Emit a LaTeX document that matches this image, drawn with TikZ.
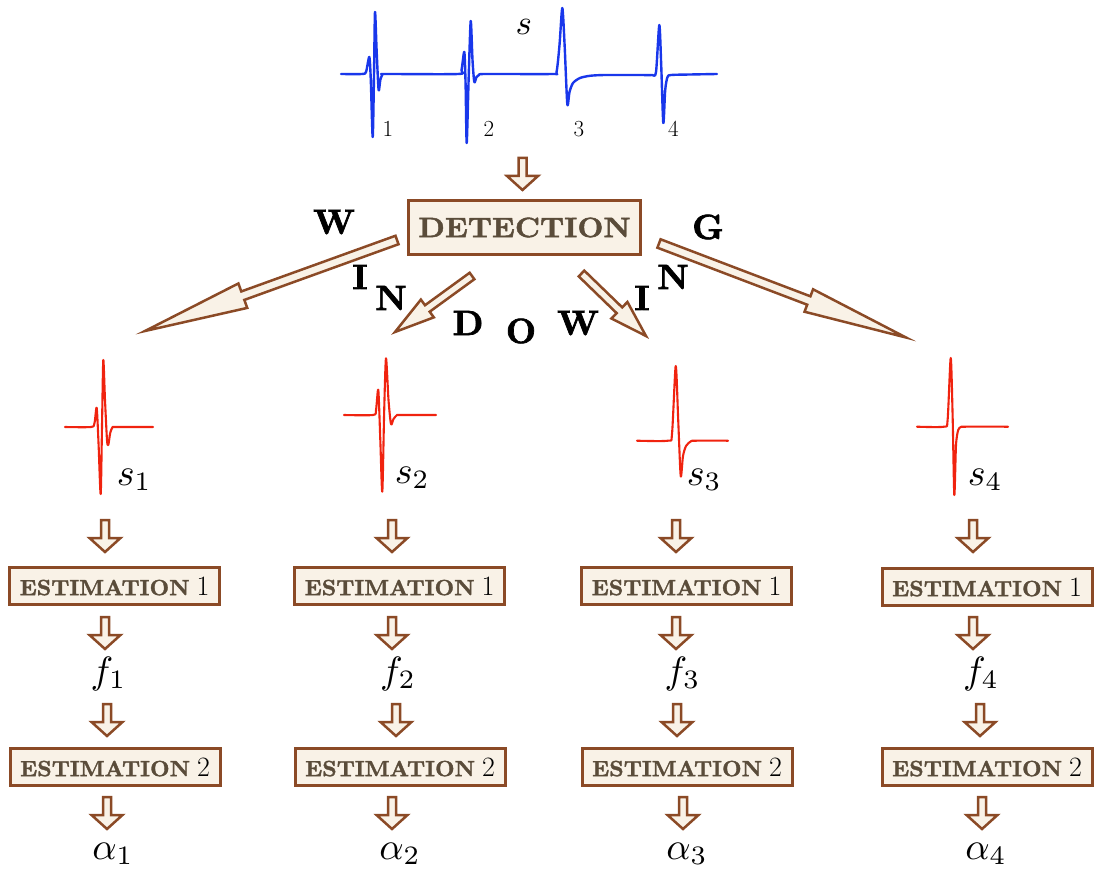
\documentclass[tikz,border=0pt]{standalone}
\usepackage{fontspec}
\newfontfamily\estfont{lmroman10-bold}[Extension=.otf, FakeBold=1.6, FakeStretch=1.03]
\newfontfamily\detfont{lmroman10-bold}[Extension=.otf, FakeBold=1.6, FakeStretch=1.08]
\newfontfamily\letfont{lmroman10-bold}[Extension=.otf, FakeBold=2]
\usetikzlibrary{calc}
\definecolor{bb}{RGB}{139,74,38}
\definecolor{bfill}{RGB}{249,242,231}
\definecolor{btext}{RGB}{90,76,58}
\definecolor{sigblue}{RGB}{25,55,235}
\definecolor{sigred}{RGB}{240,35,15}
\newcommand\estnum[1]{{\fontsize{28}{30}\normalfont\color{black}#1}}
% #1 tail, #2 tip, #3 half shaft, #4 half head, #5 head length
\newcommand\blockarrow[5]{%
  \coordinate (ba-h) at ($(#2)!#5!(#1)$);
  \draw[blk] ($(#1)!#3!90:(#2)$) -- ($(ba-h)!#3!-90:(#1)$) -- ($(ba-h)!#4!-90:(#1)$) -- (#2)
    -- ($(ba-h)!#4!90:(#1)$) -- ($(ba-h)!#3!90:(#1)$) -- ($(#1)!#3!-90:(#2)$) -- cycle;}
\tikzset{
  box/.style={draw=bb, fill=bfill, line width=3pt, inner sep=0pt, text=btext},
  estbox/.style={box, minimum width=210pt, minimum height=37pt, font=\estfont\fontsize{22}{26}\selectfont},
  detbox/.style={box, minimum width=232pt, minimum height=54pt, font=\detfont\fontsize{28}{34}\selectfont},
  blk/.style={draw=bb, fill=bfill, line width=2.5pt, line join=miter, miter limit=20},
  darrow/.pic={\draw[blk] (-4,0) -- (4,0) -- (4,18) -- (15.5,18) -- (0,32) -- (-15.5,18) -- (-4,18) -- cycle;},
  wl/.style={font=\letfont\fontsize{35}{38}\selectfont, inner sep=0pt},
  mlab/.style={font=\normalsize, scale=3.8, inner sep=0pt, anchor=base},
  dig/.style={font=\fontsize{23}{26}\selectfont, inner sep=0pt, anchor=base},
  sig/.style={line width=2.4pt, line join=round, line cap=round},
}
\begin{document}
\begin{tikzpicture}[x=1pt, y=-1pt]
\useasboundingbox (0,0) rectangle (1094,869);

% top signal
\draw[sig, sigblue] plot[smooth, tension=0.45] coordinates {
 (341,74) (362,74) (366,72) (369.3,57) (370.8,80) (372.7,137) (374,75) (375,12) (376.6,50) (378.6,90) (380.3,80) (382.5,74.5) (386,74)
 (458,74) (461.5,70) (464.3,52) (465.6,85) (466.7,143) (468.6,80) (470.7,21) (472.5,60) (474.3,82) (476.5,77) (479,75) (485,74)
 (552,74) (556.5,72) (559.5,45) (562.3,8) (564.6,45) (567.3,104) (569.5,92) (573,83) (580,78) (590,75.8) (605,75) (640,75)
 (652,75) (656,72) (659.3,25) (661.2,65) (663.3,123) (665.2,90) (667.5,77) (671,75) (690,74.5) (717,74)};
\node[mlab, scale=0.92, anchor=base west] (s) at (515,35) {$s$};
\node[dig] (n1) at (388,137) {1};
\node[dig] (n2) at (489,137) {2};
\node[dig] (n3) at (579,137) {3};
\node[dig] (n4) at (673.5,137) {4};

\pic at (522.5,158) {darrow};
\node[detbox] (det) at (524.5,227.5) {DETECTION};

% windowing arrows
\coordinate (t1) at (397,240); \coordinate (h1) at (145,331);
\coordinate (t2) at (472,276); \coordinate (h2) at (395,332);
\coordinate (t3) at (581.5,273.5); \coordinate (h3) at (646,336);
\coordinate (t4) at (659,243.5); \coordinate (h4) at (906,337.5);
\blockarrow{t1}{h1}{4.5pt}{13pt}{104pt}
\blockarrow{t2}{h2}{4pt}{11pt}{40pt}
\blockarrow{t3}{h3}{4pt}{11.5pt}{37pt}
\blockarrow{t4}{h4}{4.5pt}{12pt}{104pt}

\node[wl] (w1) at (334,222) {W};
\node[wl] (w2) at (360,277) {I};
\node[wl] (w3) at (391,298) {N};
\node[wl] (w4) at (468,323) {D};
\node[wl] (w5) at (521,331) {O};
\node[wl] (w6) at (578,323) {W};
\node[wl] (w7) at (642,298) {I};
\node[wl] (w8) at (673,277) {N};
\node[wl] (w9) at (708,227) {G};

% windows
\draw[sig, sigred, line width=2.1pt] plot[smooth, tension=0.45] coordinates {
 (65,427) (91,427) (94.5,423) (96.7,408) (98.6,445) (100.7,494) (102.1,420) (103.3,360) (105,400) (107,440) (108.3,445) (110.2,433) (112.5,427.3) (116,427) (153,427)};
\draw[sig, sigred, line width=2.1pt] plot[smooth, tension=0.45] coordinates {
 (344,415) (373,415) (376,410) (378.3,390) (380.3,440) (382.3,491.7) (384.2,410) (386,358.3) (388.5,400) (391,424) (393.5,419) (396.7,415.3) (400,415) (436,415)};
\draw[sig, sigred, line width=2.1pt] plot[smooth, tension=0.45] coordinates {
 (637,440.7) (668,440.7) (672,434) (675.7,366) (678.2,420) (680.7,476) (683,456) (686,446) (691,441.2) (696,440.7) (728,440.7)};
\draw[sig, sigred, line width=2.1pt] plot[smooth, tension=0.45] coordinates {
 (917,426.7) (944,426.7) (947.6,420) (950.7,358) (952.6,415) (954.3,495) (956,445) (958.2,430) (961,427) (965,426.7) (1008,426.7)};
\node[mlab, anchor=base west] (s1) at (116,485) {$s_1$};
\node[mlab, anchor=base west] (s2) at (394,483) {$s_2$};
\node[mlab, anchor=base west] (s3) at (686,485) {$s_3$};
\node[mlab, anchor=base west] (s4) at (967,485) {$s_4$};

% column arrows
\foreach \x/\y in {105/520, 105/617, 107/704, 107/797,
                   392/520, 392/617, 396/704, 392/797,
                   676/520, 676/617, 677/704, 683/797,
                   973/520, 973/617, 980/704, 982/797}
  \pic at (\x,\y) {darrow};

% estimation boxes
\node[estbox] (ea1) at (114.5,586) {ESTIMATION\hspace{7pt}\estnum{1}};
\node[estbox] (ea2) at (399.5,586) {ESTIMATION\hspace{7pt}\estnum{1}};
\node[estbox] (ea3) at (686.5,586) {ESTIMATION\hspace{7pt}\estnum{1}};
\node[estbox] (ea4) at (987,587) {ESTIMATION\hspace{7pt}\estnum{1}};
\node[estbox] (eb1) at (115,767) {ESTIMATION\hspace{7pt}\estnum{2}};
\node[estbox] (eb2) at (400,767) {ESTIMATION\hspace{7pt}\estnum{2}};
\node[estbox] (eb3) at (687,767) {ESTIMATION\hspace{7pt}\estnum{2}};
\node[estbox] (eb4) at (987,767) {ESTIMATION\hspace{7pt}\estnum{2}};

% f and alpha
\node[mlab] (f1) at (108.5,683) {$f_1$};
\node[mlab] (f2) at (398,683) {$f_2$};
\node[mlab] (f3) at (682.5,683) {$f_3$};
\node[mlab] (f4) at (981,683) {$f_4$};
\node[mlab] (a1) at (113,859) {$\alpha_1$};
\node[mlab] (a2) at (400,859) {$\alpha_2$};
\node[mlab] (a3) at (687,859) {$\alpha_3$};
\node[mlab] (a4) at (986,859) {$\alpha_4$};
\end{tikzpicture}
\end{document}
